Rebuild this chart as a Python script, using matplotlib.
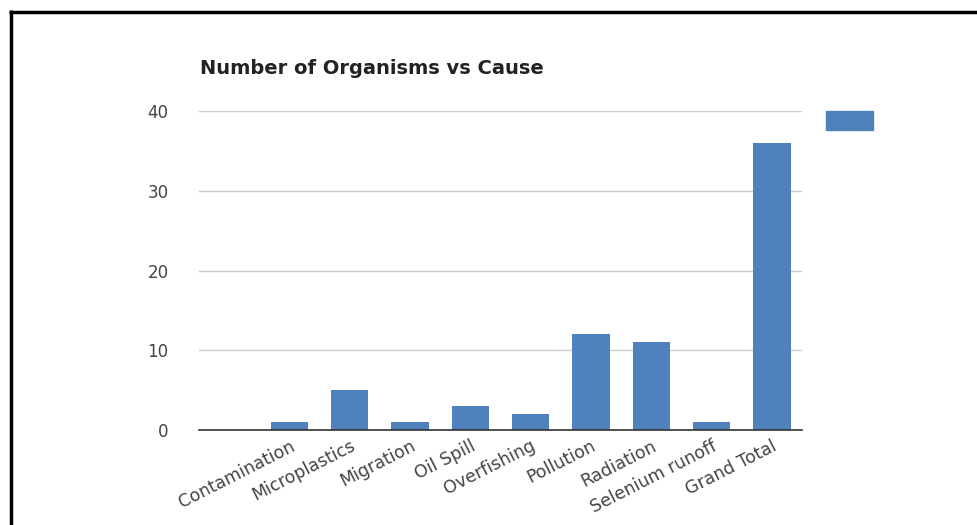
import matplotlib.pyplot as plt
from matplotlib.patches import Rectangle

# pivot table rows: the first row is the blank cause
causes = ["", "Contamination", "Microplastics", "Migration", "Oil Spill",
          "Overfishing", "Pollution", "Radiation", "Selenium runoff", "Grand Total"]
counts = [0, 1, 5, 1, 3, 2, 12, 11, 1, 36]
y_ticks = [0, 10, 20, 30, 40]

bar_color = "#4f81bd"
text_color = "#444444"

plt.rcParams['font.family'] = ['DejaVu Sans']

fig = plt.figure(figsize=(9.78, 5.25), dpi=100)
W, H = 978, 525
ax = fig.add_axes([199 / W, 95 / H, 603 / W, 319 / H])

x = range(len(causes))
ax.bar(x, counts, width=0.62, color=bar_color, zorder=3)

ax.set_xlim(-0.5, len(causes) - 0.5)
ax.set_ylim(0, 40)
ax.set_yticks(y_ticks)
ax.set_yticklabels([str(t) for t in y_ticks], fontsize=12, color=text_color)
ax.set_xticks(list(x))
ax.set_xticklabels(causes, rotation=27, ha='right', rotation_mode='anchor',
                   fontsize=12.5, color=text_color)
ax.tick_params(axis='both', length=0)
ax.tick_params(axis='y', pad=22)
ax.tick_params(axis='x', pad=5)

ax.grid(axis='y', color='#cccccc', linewidth=1, zorder=0)
for s in ['top', 'right', 'left']:
    ax.spines[s].set_visible(False)
ax.spines['bottom'].set_color('#333333')
ax.spines['bottom'].set_linewidth(1.2)
ax.spines['bottom'].set_zorder(4)

fig.text(200 / W, 1 - 69 / H, "Number of Organisms vs Cause", fontsize=14,
         fontweight='bold', color='#222222', va='center', ha='left')

# legend swatch with no series name
fig.patches.append(Rectangle((826 / W, 1 - 130 / H), 47 / W, 19 / H,
                             transform=fig.transFigure, color=bar_color))

# black frame lines along top and left
fig.add_artist(plt.Line2D([9 / W, 978 / W], [1 - 11.5 / H, 1 - 11.5 / H],
                          transform=fig.transFigure, color='black',
                          linewidth=2.5, solid_capstyle='butt'))
fig.add_artist(plt.Line2D([10.5 / W, 10.5 / W], [0, 1 - 10 / H],
                          transform=fig.transFigure, color='black',
                          linewidth=2.5, solid_capstyle='butt'))

fig.savefig("out.png", dpi=100)
